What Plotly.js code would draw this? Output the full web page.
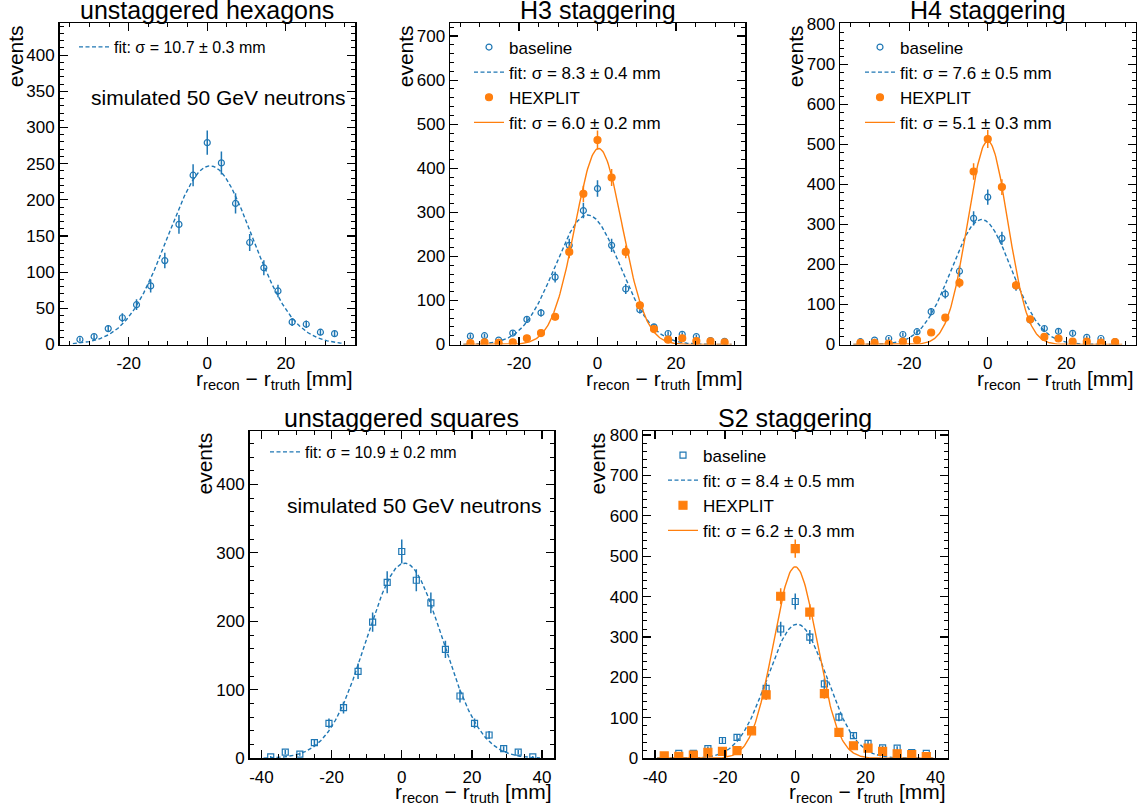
<!DOCTYPE html>
<html><head><meta charset="utf-8">
<script src="https://cdn.plot.ly/plotly-3.0.1.min.js"></script>
<style>html,body{margin:0;padding:0;background:#fff}</style>
</head><body><div id="chart" style="width:1145px;height:812px"></div>
<script>
// ---- data ----
const hexBins = [-32.4,-28.8,-25.2,-21.6,-18,-14.4,-10.8,-7.2,-3.6,0,3.6,7.2,10.8,14.4,18,21.6,25.2,28.8,32.4];
const sqBins = [-37.35,-33.2,-29.05,-24.9,-20.75,-16.6,-12.45,-8.3,-4.15,0,4.15,8.3,12.45,16.6,20.75,24.9,29.05,33.2,37.35];
const hexUnstag  = [7,11,22,37,55,81,116,166,234,279,251,195,141,106,74,31,28,17,15];
const h3Baseline = [19,20,10,26,57,72,153,225,304,354,225,126,79,40,25,23,18,9,7];
const h3Hexplit  = [3,5,4,5,14,26,63,210,342,464,379,210,89,35,11,14,8,7,5];
const h4Baseline = [7,11,15,25,32,82,126,183,315,368,265,146,61,40,33,28,18,15,7];
const h4Hexplit  = [4,4,2,7,11,30,67,154,432,513,393,148,63,19,15,7,7,5,6];
const sqUnstag   = [2,9,6,23,51,74,127,199,257,302,260,227,159,91,51,34,14,9,2];
const s2Baseline = [4,12,12,24,44,52,70,173,320,388,300,184,102,56,37,26,25,14,12];
const s2Hexplit  = [6,5,8,15,17,19,68,157,401,519,362,160,64,31,25,17,11,9,4];
// Gaussian fit parameters: [amplitude, mean, sigma]
const fitHexUnstag  = [247, 0.7, 10.7];
const fitH3Baseline = [294, -2.5, 8.3];
const fitH3Hexplit  = [445, 0.3, 6.0];
const fitH4Baseline = [312, -1.6, 7.6];
const fitH4Hexplit  = [508, 0.0, 5.1];
const fitSqUnstag   = [285, 0.8, 10.9];
const fitS2Baseline = [332, 0.5, 8.4];
const fitS2Hexplit  = [474, 0.0, 6.2];
const hexHistRange = [-34.2, 34.2];
const sqHistRange = [-39.4, 39.4];
// labels
const titles = ["unstaggered hexagons","H3 staggering","H4 staggering","unstaggered squares","S2 staggering"];
const fitLabels = ["fit: σ = 10.7 ± 0.3 mm","fit: σ = 8.3 ± 0.4 mm","fit: σ = 6.0 ± 0.2 mm","fit: σ = 7.6 ± 0.5 mm","fit: σ = 5.1 ± 0.3 mm","fit: σ = 10.9 ± 0.2 mm","fit: σ = 8.4 ± 0.5 mm","fit: σ = 6.2 ± 0.3 mm"];
const xTicksHex = [-20,0,20], xTickTextHex = ["-20","0","20"];
const xTicksSq = [-40,-20,0,20,40], xTickTextSq = ["-40","-20","0","20","40"];

// ---- helpers ----
const W = 1145, H = 812;
const BLUE = '#1f77b4', ORANGE = '#ff7f0e';
const FONT = 'Liberation Sans, Arial, Helvetica, sans-serif';
const px = v => v / W, py = v => 1 - v / H;
function gaussCurve(p, r) {
  const xs = [], ys = [];
  const n = 300;
  for (let i = 0; i <= n; i++) {
    const x = r[0] + (r[1] - r[0]) * i / n;
    xs.push(x);
    ys.push(p[0] * Math.exp(-0.5 * Math.pow((x - p[1]) / p[2], 2)));
  }
  return {x: xs, y: ys};
}
function pts(xs, ys, sym, size, color, name, xa, ya, leg, showleg) {
  return {type:'scatter', mode:'markers', x: xs, y: ys, name: name,
    xaxis: xa, yaxis: ya, legend: leg, showlegend: showleg,
    marker:{symbol: sym, size: size, color: color, line:{color: color, width: 1.2}},
    error_y:{type:'data', array: ys.map(v => Math.sqrt(v)), visible:true, thickness:1.5, width:0, color: color}};
}
function fit(p, r, color, dash, name, xa, ya, leg) {
  const c = gaussCurve(p, r);
  return {type:'scatter', mode:'lines', x: c.x, y: c.y, name: name, xaxis: xa, yaxis: ya, legend: leg,
    showlegend: true, line:{color: color, width: 1.4, dash: dash}};
}
const DASH = '4px,2.5px';

const traces = [
  pts(hexBins, hexUnstag, 'circle-open', 6, BLUE, 'baseline', 'x', 'y', 'legend', false),
  fit(fitHexUnstag, hexHistRange, BLUE, DASH, fitLabels[0], 'x', 'y', 'legend'),

  pts(hexBins, h3Baseline, 'circle-open', 6, BLUE, 'baseline', 'x2', 'y2', 'legend2', true),
  fit(fitH3Baseline, hexHistRange, BLUE, DASH, fitLabels[1], 'x2', 'y2', 'legend2'),
  pts(hexBins, h3Hexplit, 'circle', 7, ORANGE, 'HEXPLIT', 'x2', 'y2', 'legend2', true),
  fit(fitH3Hexplit, hexHistRange, ORANGE, 'solid', fitLabels[2], 'x2', 'y2', 'legend2'),

  pts(hexBins, h4Baseline, 'circle-open', 6, BLUE, 'baseline', 'x3', 'y3', 'legend3', true),
  fit(fitH4Baseline, hexHistRange, BLUE, DASH, fitLabels[3], 'x3', 'y3', 'legend3'),
  pts(hexBins, h4Hexplit, 'circle', 7, ORANGE, 'HEXPLIT', 'x3', 'y3', 'legend3', true),
  fit(fitH4Hexplit, hexHistRange, ORANGE, 'solid', fitLabels[4], 'x3', 'y3', 'legend3'),

  pts(sqBins, sqUnstag, 'square-open', 6, BLUE, 'baseline', 'x4', 'y4', 'legend4', false),
  fit(fitSqUnstag, sqHistRange, BLUE, DASH, fitLabels[5], 'x4', 'y4', 'legend4'),

  pts(sqBins, s2Baseline, 'square-open', 6, BLUE, 'baseline', 'x5', 'y5', 'legend5', true),
  fit(fitS2Baseline, sqHistRange, BLUE, DASH, fitLabels[6], 'x5', 'y5', 'legend5'),
  pts(sqBins, s2Hexplit, 'square', 8, ORANGE, 'HEXPLIT', 'x5', 'y5', 'legend5', true),
  fit(fitS2Hexplit, sqHistRange, ORANGE, 'solid', fitLabels[7], 'x5', 'y5', 'legend5'),
];

// panel boxes in pixels [left, right, top, bottom]
const boxes = [
  [59.5, 355, 23.3, 344.5],
  [450, 745, 23.3, 344.5],
  [840, 1135.5, 23.3, 344.5],
  [249.5, 554, 431, 758.3],
  [643, 947.5, 431, 758.3],
];
const yRanges = [[0,444],[0,729],[0,802],[0,478],[0,810]];
const yDtick = [50,100,100,100,100];
const yMinor = [10,20,20,20,20];
const xRanges = [[-37.6,37.6],[-37.6,37.6],[-37.6,37.6],[-43.4,43.4],[-43.4,43.4]];

const layout = {width: W, height: H, margin:{l:0,r:0,t:0,b:0}, paper_bgcolor:'#fff', plot_bgcolor:'#fff',
  font:{family: FONT, color:'#000'}, annotations: []};

function axisCommon() {
  return {showline:true, linecolor:'#000', linewidth:1.5, mirror:'ticks', ticks:'inside', ticklen:8,
    tickwidth:1.2, tickcolor:'#000', showgrid:false, zeroline:false, tickfont:{size:17, family: FONT},
    minor:{ticks:'inside', ticklen:4, tickwidth:1, tickcolor:'#000', tickmode:'linear', tick0:0}};
}
const ylabelX = [15, 405, 795, 203.5, 596.5];
for (let i = 0; i < 5; i++) {
  const b = boxes[i], s = i === 0 ? '' : String(i + 1);
  const xa = axisCommon(), ya = axisCommon();
  xa.domain = [px(b[0]), px(b[1])]; xa.range = xRanges[i]; xa.anchor = 'y' + s;
  xa.tickmode = 'array';
  xa.tickvals = i < 3 ? xTicksHex : xTicksSq; xa.ticktext = i < 3 ? xTickTextHex : xTickTextSq;
  xa.minor.dtick = 5; xa.ticklabelstandoff = 3;
  ya.domain = [py(b[3]), py(b[2])]; ya.range = yRanges[i]; ya.anchor = 'x' + s;
  ya.tickmode = 'linear'; ya.tick0 = 0; ya.dtick = yDtick[i]; ya.minor.dtick = yMinor[i];
  layout['xaxis' + s] = xa; layout['yaxis' + s] = ya;
  // title
  layout.annotations.push({xref:'paper', yref:'paper', x: px((b[0]+b[1])/2), y: py(b[2]), xanchor:'center', yanchor:'bottom',
    text: titles[i], showarrow:false, font:{size:25, family: FONT}, yshift: -3});
  // x label
  layout.annotations.push({xref:'paper', yref:'paper', x: px(b[1]), y: py(b[3] + 20), xanchor:'right', yanchor:'top',
    text:'r<sub>recon</sub> − r<sub>truth</sub> [mm]', showarrow:false, font:{size:21, family: FONT}});
  // y label
  layout.annotations.push({xref:'paper', yref:'paper', x: px(ylabelX[i]), y: py(b[2]), xanchor:'center', yanchor:'top',
    text:'events', textangle:-90, showarrow:false, font:{size:21, family: FONT}});
}
layout.annotations.push({xref:'paper', yref:'paper', x: px(347), y: py(97), xanchor:'right', yanchor:'middle',
  text:'simulated 50 GeV neutrons', showarrow:false, font:{size:21, family: FONT}});
layout.annotations.push({xref:'paper', yref:'paper', x: px(543), y: py(505), xanchor:'right', yanchor:'middle',
  text:'simulated 50 GeV neutrons', showarrow:false, font:{size:21, family: FONT}});

const legBase = {bgcolor:'rgba(0,0,0,0)', borderwidth:0, xanchor:'left', yanchor:'top', xref:'paper', yref:'paper', itemwidth:30, traceorder:'normal'};
layout.legend  = Object.assign({}, legBase, {x: px(74),  y: py(30), font:{size:16, family: FONT}});
layout.legend2 = Object.assign({}, legBase, {x: px(469), y: py(29.5), font:{size:17, family: FONT}});
layout.legend3 = Object.assign({}, legBase, {x: px(860), y: py(29.5), font:{size:17, family: FONT}});
layout.legend4 = Object.assign({}, legBase, {x: px(265), y: py(435), font:{size:16, family: FONT}});
layout.legend5 = Object.assign({}, legBase, {x: px(663), y: py(437.5), font:{size:17, family: FONT}});

Plotly.newPlot('chart', traces, layout, {displayModeBar:false, staticPlot:true});
</script>
</body></html>
